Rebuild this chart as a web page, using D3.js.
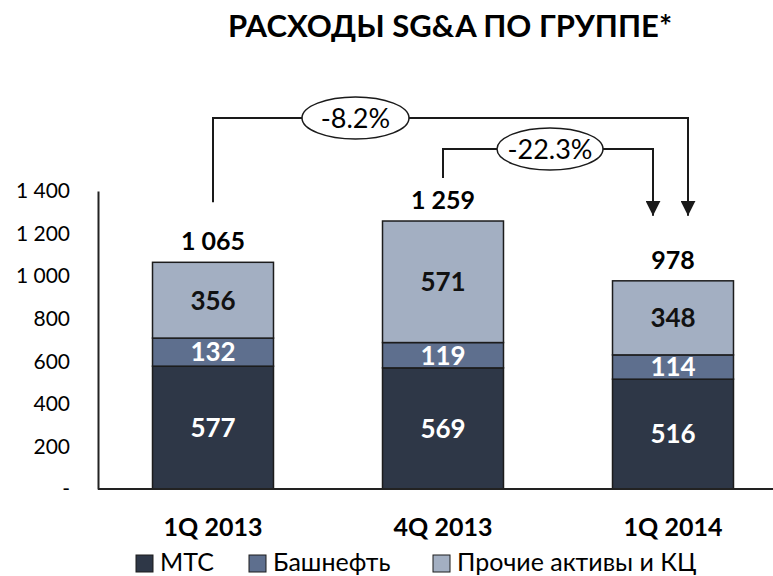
<!DOCTYPE html>
<html>
<head>
<meta charset="utf-8">
<script src="https://cdn.jsdelivr.net/npm/d3@7"></script>
<style>
  body { margin: 0; background: #fff; }
  svg { display: block; font-family: Lato, "Open Sans", sans-serif; }
</style>
</head>
<body>
<div id="container"></div>
<script>
/**
 * CONSTANTS AND GLOBALS
 * */
const width = 773,
  height = 576;

// data
const categories = ["1Q 2013", "4Q 2013", "1Q 2014"];
const seriesNames = ["МТС", "Башнефть", "Прочие активы и КЦ"];
const mts = [577, 569, 516];
const bashneft = [132, 119, 114];
const other = [356, 571, 348];
const totals = [1065, 1259, 978];
const yTicks = [0, 200, 400, 600, 800, 1000, 1200, 1400];
const changes = ["-8.2%", "-22.3%"];

const colors = ["#2e3747", "#5e6f8e", "#a3afc2"];
const labelColors = ["#ffffff", "#ffffff", "#111111"];

const fmt = d3.formatLocale({ decimal: ",", thousands: "\u00a0", grouping: [3], currency: ["", ""] }).format(",d");

/**
 * SCALES
 * */
const x = d3.scaleBand()
  .domain(categories)
  .range([98, 788])
  .paddingInner(0.474)
  .paddingOuter(0.237);

const y = d3.scaleLinear()
  .domain([0, 1400])
  .range([489, 191]);

const rows = categories.map((c, i) => ({
  cat: c,
  "МТС": mts[i],
  "Башнефть": bashneft[i],
  "Прочие активы и КЦ": other[i]
}));
const stacked = d3.stack().keys(seriesNames)(rows);

const svg = d3.select("#container")
  .append("svg")
  .attr("width", width)
  .attr("height", height);

// title
svg.append("text")
  .attr("x", 450)
  .attr("y", 37)
  .attr("text-anchor", "middle")
  .attr("font-size", 31)
  .attr("font-weight", 700)
  .attr("fill", "#000")
  .text("РАСХОДЫ SG&A ПО ГРУППЕ*");

// y axis (line + labels, no ticks)
const yAxis = d3.axisLeft(y)
  .tickValues(yTicks)
  .tickSize(0)
  .tickPadding(28)
  .tickFormat(d => d === 0 ? "-" : fmt(d));

svg.append("g")
  .attr("transform", "translate(98,0)")
  .call(yAxis)
  .call(g => g.select(".domain").attr("stroke", "#222").attr("stroke-width", 2))
  .call(g => g.selectAll("text")
    .attr("font-family", "Lato, sans-serif")
    .attr("font-size", 21)
    .attr("fill", "#000"));

// bars
const layers = svg.append("g")
  .selectAll("g.layer")
  .data(stacked)
  .join("g")
  .attr("class", "layer")
  .attr("fill", (d, i) => colors[i]);

layers.selectAll("rect")
  .data(d => d)
  .join("rect")
  .attr("x", d => x(d.data.cat))
  .attr("width", x.bandwidth())
  .attr("y", d => y(d[1]))
  .attr("height", d => y(d[0]) - y(d[1]))
  .attr("stroke", "#1c1c1c")
  .attr("stroke-width", 1.5);

// segment labels
layers.selectAll("text")
  .data((d, i) => d.map(s => ({ s, i })))
  .join("text")
  .attr("x", d => x(d.s.data.cat) + x.bandwidth() / 2)
  .attr("y", d => (y(d.s[0]) + y(d.s[1])) / 2)
  .attr("dy", "0.36em")
  .attr("text-anchor", "middle")
  .attr("font-size", 26)
  .attr("font-weight", 700)
  .attr("fill", d => labelColors[d.i])
  .text(d => d.s[1] - d.s[0]);

// totals
svg.append("g")
  .selectAll("text")
  .data(totals)
  .join("text")
  .attr("x", (d, i) => x(categories[i]) + x.bandwidth() / 2)
  .attr("y", d => y(d) - 12)
  .attr("text-anchor", "middle")
  .attr("font-size", 25)
  .attr("font-weight", 700)
  .attr("fill", "#000")
  .text(d => fmt(d));

// x axis
const xAxis = d3.axisBottom(x).tickSize(0).tickPadding(29);
svg.append("g")
  .attr("transform", "translate(0,489)")
  .call(xAxis)
  .call(g => g.select(".domain").attr("d", "M98,0H773").attr("stroke", "#222").attr("stroke-width", 2))
  .call(g => g.selectAll("text")
    .attr("font-family", "Lato, sans-serif")
    .attr("font-size", 25)
    .attr("font-weight", 700)
    .attr("fill", "#000"));

// change brackets
const cx = i => x(categories[i]) + x.bandwidth() / 2;
const defs = svg.append("defs");
defs.append("marker")
  .attr("id", "arrow")
  .attr("viewBox", "0 0 10 10")
  .attr("refX", 10).attr("refY", 5)
  .attr("markerWidth", 15).attr("markerHeight", 15)
  .attr("markerUnits", "userSpaceOnUse")
  .attr("orient", "auto")
  .append("path")
  .attr("d", "M0,0L10,5L0,10Z")
  .attr("fill", "#1a1a1a");

const brackets = [
  { from: 0, to: 2, lineY: 118, startY: y(totals[0]) - 60, endX: cx(2) + 15, label: changes[0], ex: 355.5, rx: 53.5 },
  { from: 1, to: 2, lineY: 149, startY: y(totals[1]) - 43, endX: cx(2) - 20, label: changes[1], ex: 550, rx: 53 }
];

const br = svg.append("g");
br.selectAll("path")
  .data(brackets)
  .join("path")
  .attr("d", d => `M${cx(d.from)},${d.startY}V${d.lineY}H${d.endX}V${y(totals[2]) - 65}`)
  .attr("fill", "none")
  .attr("stroke", "#1a1a1a")
  .attr("stroke-width", 2)
  .attr("marker-end", "url(#arrow)");

br.selectAll("ellipse")
  .data(brackets)
  .join("ellipse")
  .attr("cx", d => d.ex)
  .attr("cy", d => d.lineY)
  .attr("rx", d => d.rx)
  .attr("ry", 21)
  .attr("fill", "#fff")
  .attr("stroke", "#1a1a1a")
  .attr("stroke-width", 1.5);

br.selectAll("text")
  .data(brackets)
  .join("text")
  .attr("x", d => d.ex)
  .attr("y", d => d.lineY)
  .attr("dy", "0.36em")
  .attr("text-anchor", "middle")
  .attr("font-size", 27)
  .attr("fill", "#000")
  .text(d => d.label);

// legend
const legendX = [136, 249, 433];
const legend = svg.append("g")
  .selectAll("g")
  .data(seriesNames)
  .join("g")
  .attr("transform", (d, i) => `translate(${legendX[i]},555)`);

legend.append("rect")
  .attr("width", 17)
  .attr("height", 17)
  .attr("fill", (d, i) => colors[i])
  .attr("stroke", "#1c1c1c")
  .attr("stroke-width", 1);

legend.append("text")
  .attr("x", 24)
  .attr("y", 16)
  .attr("font-size", 25)
  .attr("fill", "#000")
  .text(d => d);
</script>
</body>
</html>
